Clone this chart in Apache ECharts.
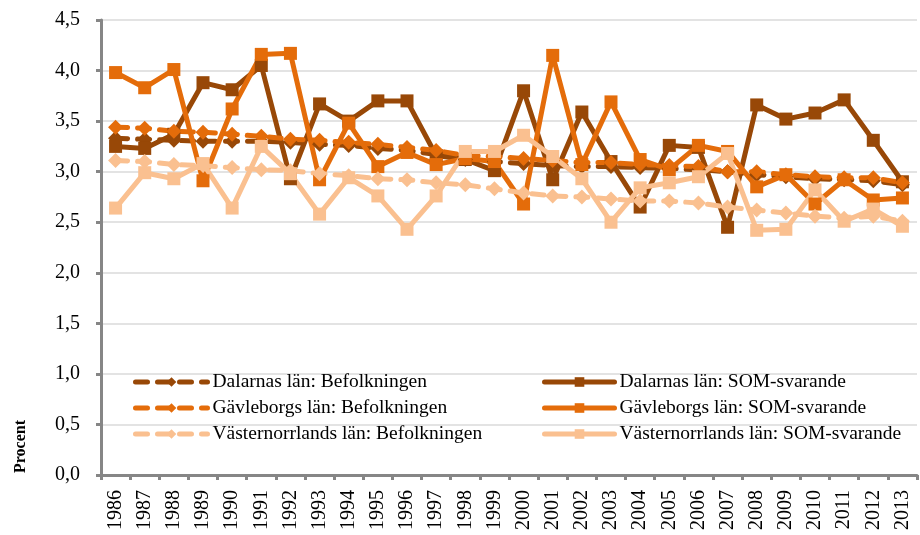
<!DOCTYPE html>
<html>
<head>
<meta charset="utf-8">
<script src="https://cdn.jsdelivr.net/npm/echarts@6.0.0/dist/echarts.min.js"></script>
<style>html,body{margin:0;padding:0;background:#fff}#c{width:920px;height:535px}</style>
</head>
<body>
<div id="c"></div>
<script>
const years = ['1986','1987','1988','1989','1990','1991','1992','1993','1994','1995','1996','1997','1998','1999','2000','2001','2002','2003','2004','2005','2006','2007','2008','2009','2010','2011','2012','2013'];
const dalBef = [3.33,3.32,3.31,3.30,3.30,3.30,3.29,3.27,3.26,3.23,3.21,3.17,3.12,3.10,3.08,3.06,3.05,3.05,3.04,3.03,3.02,3.00,2.97,2.95,2.93,2.92,2.91,2.87];
const dalSOM = [3.25,3.23,3.37,3.88,3.81,4.05,2.93,3.67,3.50,3.70,3.70,3.16,3.12,3.01,3.80,2.92,3.59,3.10,2.65,3.26,3.24,2.45,3.66,3.52,3.58,3.71,3.31,2.90];
const gavBef = [3.44,3.43,3.40,3.39,3.37,3.35,3.32,3.31,3.29,3.27,3.24,3.21,3.16,3.15,3.13,3.11,3.09,3.09,3.07,3.06,3.05,3.00,3.00,2.97,2.95,2.94,2.94,2.89];
const gavSOM = [3.98,3.83,4.01,2.91,3.62,4.16,4.17,2.92,3.48,3.05,3.19,3.07,3.13,3.10,2.68,4.15,3.07,3.69,3.12,3.02,3.26,3.20,2.85,2.97,2.68,2.92,2.72,2.74];
const vasBef = [3.11,3.10,3.07,3.06,3.04,3.02,3.01,2.98,2.96,2.93,2.92,2.89,2.87,2.83,2.79,2.76,2.75,2.73,2.71,2.71,2.69,2.65,2.62,2.59,2.56,2.54,2.56,2.51];
const vasSOM = [2.64,2.99,2.93,3.08,2.64,3.25,2.98,2.58,2.94,2.76,2.43,2.76,3.20,3.20,3.36,3.15,2.93,2.50,2.84,2.89,2.95,3.18,2.42,2.43,2.82,2.51,2.63,2.46];
const names = ['Dalarnas län: Befolkningen','Dalarnas län: SOM-svarande','Gävleborgs län: Befolkningen','Gävleborgs län: SOM-svarande','Västernorrlands län: Befolkningen','Västernorrlands län: SOM-svarande'];
const colors = {dal:'#984807', gav:'#E46C0A', vas:'#FAC090'};

const FONT = 'Liberation Serif';
function bef(name, data, color){
  return {name, type:'line', data, symbol:'diamond', symbolSize:15, color,
    lineStyle:{width:5, color, type:[12,10], cap:'round'}, itemStyle:{color}, z:2};
}
function som(name, data, color){
  return {name, type:'line', data, symbol:'rect', symbolSize:13, color,
    lineStyle:{width:5, color, type:'solid', cap:'round'}, itemStyle:{color}, z:2};
}
const chart = echarts.init(document.getElementById('c'));
const legendCommon = {orient:'vertical', padding:0, itemHeight:12, itemGap:6,
  lineStyle:{width:5}, textStyle:{fontFamily:FONT, fontSize:19.5, color:'#000', lineHeight:20}, selectedMode:false};
chart.setOption({
  animation:false,
  grid:{left:101, right:3, top:20, bottom:60},
  legend:[
    Object.assign({left:133, top:372, itemWidth:72, data:[names[0],names[2],names[4]]}, legendCommon),
    Object.assign({left:542, top:372, itemWidth:70, data:[names[1],names[3],names[5]]}, legendCommon)
  ],
  graphic:[{type:'text', x:13, y:473, rotation:Math.PI/2, style:{text:'Procent', font:'bold 16px "Liberation Serif"', fill:'#000'}}],
  xAxis:{type:'category', data:years, boundaryGap:true,
    axisLine:{lineStyle:{color:'#868686', width:3}},
    axisTick:{show:true, length:5, lineStyle:{color:'#868686', width:3}},
    axisLabel:{rotate:90, fontFamily:FONT, fontSize:20, color:'#000', margin:15, interval:0}},
  yAxis:{type:'value', min:0, max:4.5, interval:0.5,
    axisLine:{show:true, lineStyle:{color:'#868686', width:3}},
    axisTick:{show:true, length:5, lineStyle:{color:'#868686', width:3}},
    splitLine:{lineStyle:{color:'#e3e3e3', width:2}},
    axisLabel:{fontFamily:FONT, fontSize:20, color:'#000', margin:21, formatter:v=>v.toFixed(1).replace('.',',')}},
  series:[
    bef(names[0], dalBef, colors.dal),
    som(names[1], dalSOM, colors.dal),
    bef(names[2], gavBef, colors.gav),
    som(names[3], gavSOM, colors.gav),
    bef(names[4], vasBef, colors.vas),
    som(names[5], vasSOM, colors.vas)
  ]
});
</script>
</body>
</html>
